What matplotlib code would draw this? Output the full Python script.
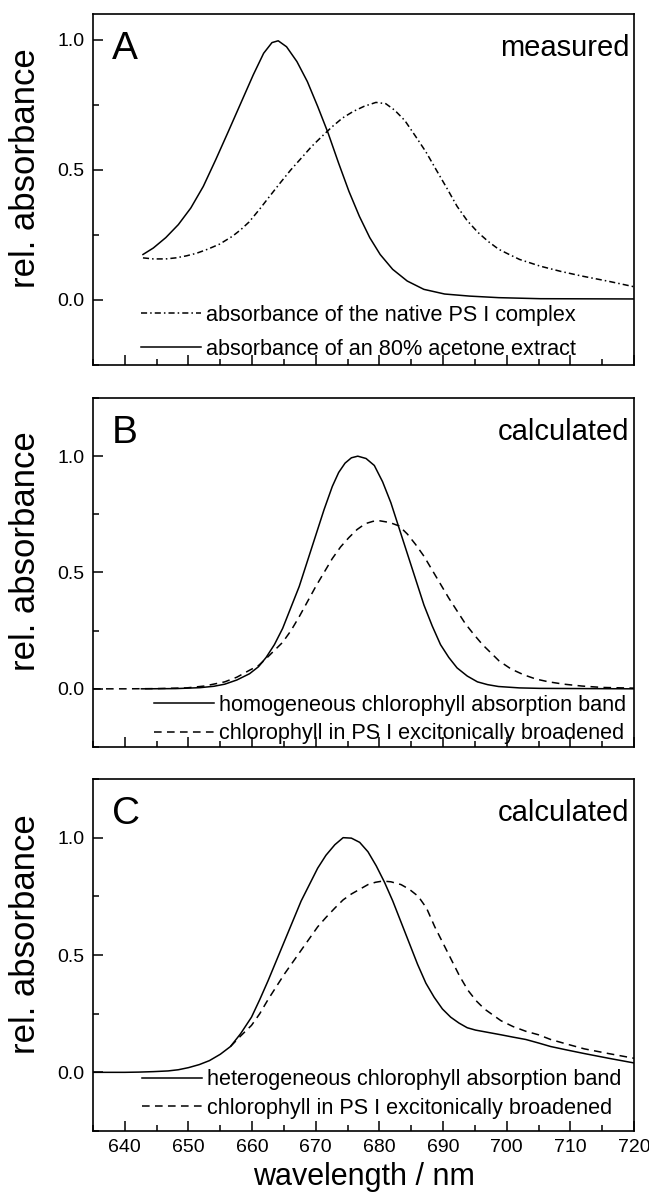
import matplotlib
matplotlib.use("Agg")
import matplotlib.pyplot as plt
from matplotlib.ticker import MultipleLocator, FormatStrFormatter

plt.rcParams['font.family'] = ['Liberation Sans', 'DejaVu Sans']

# Panel A: measured spectra
a_wl_ext = [642.85, 644.48, 646.44, 648.41, 650.37, 652.33, 654.29, 656.26, 658.22, 660.18,
            661.81, 663.12, 664.10, 665.41, 667.04, 668.68, 670.31, 671.94, 673.58, 675.21,
            676.85, 678.48, 680.12, 682.08, 684.37, 686.98, 690.25, 694.17, 698.75, 705.29,
            720.0]
a_abs_ext = [0.175, 0.20, 0.24, 0.29, 0.354, 0.437, 0.54, 0.648, 0.757, 0.866,
             0.949, 0.99, 0.997, 0.974, 0.917, 0.84, 0.744, 0.642, 0.527, 0.418,
             0.322, 0.24, 0.175, 0.118, 0.073, 0.041, 0.023, 0.015, 0.009, 0.005,
             0.004]
a_wl_psi = [642.85, 644.5, 646.44, 648.0, 649.71, 651.3, 652.98, 654.9, 656.9, 658.2,
            659.52, 661.2, 662.79, 664.4, 666.06, 667.7, 669.33, 671.0, 672.6, 674.2,
            675.87, 677.6, 679.46, 681.0, 682.4, 684.0, 685.67, 687.3, 688.94, 690.6,
            692.21, 693.8, 695.48, 697.1, 698.75, 700.4, 702.02, 705.29, 708.5, 711.83,
            716.0, 720.0]
a_abs_psi = [0.162, 0.158, 0.158, 0.162, 0.17, 0.18, 0.195, 0.215, 0.245, 0.27,
             0.30, 0.35, 0.40, 0.45, 0.50, 0.545, 0.59, 0.63, 0.667, 0.70,
             0.725, 0.745, 0.76, 0.755, 0.73, 0.69, 0.63, 0.57, 0.50, 0.43,
             0.36, 0.305, 0.26, 0.225, 0.195, 0.175, 0.156, 0.13, 0.11, 0.092,
             0.072, 0.051]

# Panel B: calculated, homogeneous band
b_wl_hom = [642.6, 648.0, 651.8, 654.0, 655.7, 657.6, 659.6, 661.0, 662.2, 663.5,
            664.8, 666.1, 667.4, 668.7, 670.0, 671.3, 672.6, 673.6, 674.6, 675.6,
            676.6, 677.9, 679.2, 680.5, 681.8, 683.1, 684.4, 685.7, 687.0, 688.3,
            689.6, 690.9, 692.2, 693.8, 695.4, 697.0, 698.7, 702.0, 705.2, 720.0]
b_abs_hom = [0.0, 0.001, 0.005, 0.011, 0.02, 0.038, 0.065, 0.095, 0.135, 0.19,
             0.26, 0.35, 0.44, 0.55, 0.66, 0.77, 0.87, 0.93, 0.97, 0.993,
             1.0, 0.99, 0.96, 0.89, 0.80, 0.69, 0.58, 0.47, 0.36, 0.27,
             0.19, 0.135, 0.09, 0.055, 0.03, 0.018, 0.01, 0.004, 0.002, 0.0]
b_wl_exc = [635.0, 640.0, 645.0, 649.7, 652.5, 655.7, 657.6, 659.6, 661.0, 662.2,
            663.5, 664.8, 666.1, 667.4, 668.7, 670.0, 671.3, 672.6, 673.9, 675.2,
            676.5, 677.8, 679.0, 680.1, 681.6, 683.1, 684.4, 685.7, 687.0, 688.3,
            689.6, 690.9, 692.2, 693.5, 694.8, 696.2, 697.5, 698.8, 700.7, 702.7,
            704.6, 706.6, 709.0, 711.8, 715.0, 720.0]
b_abs_exc = [0.0, 0.0, 0.001, 0.004, 0.012, 0.03, 0.05, 0.08, 0.10, 0.13,
             0.165, 0.20, 0.25, 0.31, 0.375, 0.44, 0.50, 0.56, 0.61, 0.65,
             0.685, 0.71, 0.72, 0.722, 0.715, 0.70, 0.665, 0.62, 0.57, 0.51,
             0.45, 0.39, 0.335, 0.28, 0.235, 0.19, 0.155, 0.12, 0.085, 0.06,
             0.042, 0.03, 0.02, 0.012, 0.006, 0.003]

# Panel C: calculated, heterogeneous band
c_wl_het = [635.0, 640.0, 642.2, 644.5, 646.8, 648.4, 650.0, 651.7, 653.3, 655.0,
            656.6, 658.2, 659.9, 661.2, 662.5, 663.8, 665.1, 666.4, 667.7, 669.0,
            670.3, 671.6, 673.0, 674.3, 675.6, 676.9, 678.2, 679.5, 680.8, 682.1,
            683.4, 684.7, 686.0, 687.3, 688.6, 689.9, 691.2, 692.5, 693.8, 695.1,
            697.1, 699.1, 701.0, 703.0, 705.0, 706.9, 709.5, 712.2, 716.0, 720.0]
c_abs_het = [0.0, 0.0, 0.001, 0.003, 0.006, 0.011, 0.02, 0.033, 0.05, 0.077,
             0.11, 0.165, 0.235, 0.31, 0.39, 0.475, 0.56, 0.645, 0.73, 0.80,
             0.87, 0.925, 0.97, 1.0, 0.998, 0.98, 0.94, 0.88, 0.81, 0.73,
             0.64, 0.55, 0.46, 0.38, 0.32, 0.27, 0.235, 0.21, 0.19, 0.18,
             0.17, 0.16, 0.15, 0.14, 0.125, 0.11, 0.095, 0.08, 0.06, 0.04]
c_wl_exc = [656.6, 658.2, 659.9, 661.2, 662.5, 663.8, 665.1, 666.4, 667.7, 669.0,
            670.3, 671.6, 673.0, 674.3, 675.6, 676.9, 678.2, 679.4, 680.5, 681.8,
            683.4, 684.7, 686.1, 687.4, 688.7, 690.0, 691.3, 692.6, 693.9, 695.2,
            696.5, 697.8, 699.1, 701.0, 703.0, 705.0, 706.9, 709.5, 712.2, 716.0,
            720.0]
c_abs_exc = [0.11, 0.155, 0.2, 0.25, 0.31, 0.365, 0.42, 0.47, 0.52, 0.57,
             0.62, 0.66, 0.70, 0.735, 0.76, 0.78, 0.80, 0.81, 0.815, 0.812,
             0.80, 0.78, 0.75, 0.70, 0.62, 0.55, 0.48, 0.41, 0.35, 0.305,
             0.27, 0.245, 0.22, 0.195, 0.175, 0.16, 0.14, 0.12, 0.10, 0.08,
             0.06]

fig = plt.figure(figsize=(6.49, 11.94), dpi=100)

left, width = 93 / 649, 541 / 649
ax_a = fig.add_axes([left, 1 - 365 / 1194, width, 351 / 1194])
ax_b = fig.add_axes([left, 1 - 747 / 1194, width, 349 / 1194])
ax_c = fig.add_axes([left, 1 - 1131 / 1194, width, 352 / 1194])

dashdot = (0, (4, 2, 1, 2))
dashed = (0, (5, 3.5))
lw = 1.1

ax_a.plot(a_wl_psi, a_abs_psi, color='black', lw=lw, linestyle=dashdot)
ax_a.plot(a_wl_ext, a_abs_ext, color='black', lw=lw, linestyle='-')

ax_b.plot(b_wl_exc, b_abs_exc, color='black', lw=lw, linestyle=dashed)
ax_b.plot(b_wl_hom, b_abs_hom, color='black', lw=lw, linestyle='-')

ax_c.plot(c_wl_het, c_abs_het, color='black', lw=lw, linestyle='-')
ax_c.plot(c_wl_exc, c_abs_exc, color='black', lw=lw, linestyle=dashed)

panels = [
    (ax_a, (-0.25, 1.10), 'A', 'measured'),
    (ax_b, (-0.25, 1.25), 'B', 'calculated'),
    (ax_c, (-0.25, 1.25), 'C', 'calculated'),
]
for ax, ylim, letter, tag in panels:
    ax.set_xlim(635, 720)
    ax.set_ylim(*ylim)
    ax.xaxis.set_major_locator(MultipleLocator(10))
    ax.xaxis.set_minor_locator(MultipleLocator(5))
    ax.yaxis.set_major_locator(MultipleLocator(0.5))
    ax.yaxis.set_minor_locator(MultipleLocator(0.25))
    ax.yaxis.set_major_formatter(FormatStrFormatter('%.1f'))
    ax.tick_params(which='both', direction='in', top=False, right=False,
                   labelsize=14, width=1.1)
    ax.tick_params(which='major', length=7, pad=6)
    ax.tick_params(which='minor', length=4)
    for s in ax.spines.values():
        s.set_linewidth(1.2)
    ax.set_ylabel('rel. absorbance', fontsize=25)
    ax.yaxis.set_label_coords(-0.095, 0.56)
    ax.text(0.035, 0.872, letter, transform=ax.transAxes, fontsize=28,
            ha='left', va='baseline')
    ax.text(0.992, 0.88, tag, transform=ax.transAxes, fontsize=21,
            ha='right', va='baseline')

ax_a.tick_params(axis='x', labelbottom=False)
ax_b.tick_params(axis='x', labelbottom=False)
ax_c.set_xlabel('wavelength / nm', fontsize=22, labelpad=4)


def add_legend(ax, handles, labels, x0, y0, spacing):
    ax.legend(handles, labels, loc='lower left', bbox_to_anchor=(x0, y0),
              frameon=False, fontsize=15.6, handlelength=2.76, handletextpad=0.25,
              labelspacing=spacing, borderpad=0, borderaxespad=0)


la = ax_a.get_lines()
add_legend(ax_a, [la[0], la[1]],
           ['absorbance of the native PS I complex',
            'absorbance of an 80% acetone extract'], 0.089, 0.015, 0.6)
lb = ax_b.get_lines()
add_legend(ax_b, [lb[1], lb[0]],
           ['homogeneous chlorophyll absorption band',
            'chlorophyll in PS I excitonically broadened'], 0.113, 0.008, 0.34)
lc = ax_c.get_lines()
add_legend(ax_c, [lc[0], lc[1]],
           ['heterogeneous chlorophyll absorption band',
            'chlorophyll in PS I excitonically broadened'], 0.091, 0.034, 0.36)

fig.savefig('out.png', dpi=100)
